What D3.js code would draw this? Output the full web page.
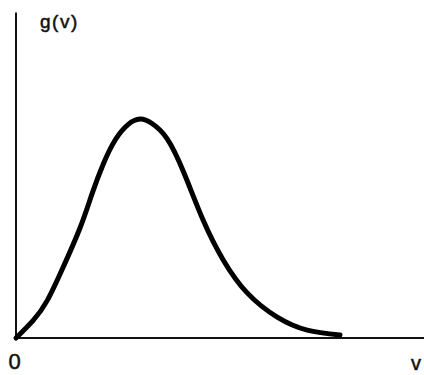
<!DOCTYPE html>
<html>
<head>
<meta charset="utf-8">
<script src="https://cdn.jsdelivr.net/npm/d3@7"></script>
<style>
  html, body { margin: 0; padding: 0; background: #fff; }
  svg { display: block; }
  text { font-family: "Liberation Sans", Arial, sans-serif; fill: #111; stroke: #111; stroke-width: 0.5px; }
</style>
</head>
<body>
<script>
// Speed distribution curve g(v): sampled speeds and their relative densities
const speeds    = [0, 0.43, 0.78, 1.15, 1.6, 1.9, 2.18, 2.48, 2.8, 3.1, 3.4, 3.78, 4.2, 4.68, 5.18, 5.78, 6.53, 7.28, 8.1];
const densities = [0, 0.08, 0.17, 0.31, 0.5, 0.655, 0.79, 0.9, 0.97, 0.995, 0.975, 0.905, 0.75, 0.535, 0.355, 0.205, 0.095, 0.036, 0.014];
const yLabel = "g(v)";
const xLabel = "v";
const originLabel = "0";

const width = 424, height = 375;
const svg = d3.select("body").append("svg")
  .attr("width", width).attr("height", height);

const x = d3.scaleLinear().domain([0, 10.2]).range([16, 424]);
const y = d3.scaleLinear().domain([0, 1]).range([338, 118]);

// axes
svg.append("line")
  .attr("x1", x(0)).attr("x2", x(0))
  .attr("y1", y(1.48)).attr("y2", y(0) + 1)
  .attr("stroke", "#111").attr("stroke-width", 2);
svg.append("line")
  .attr("x1", x(0)).attr("x2", x(10.2))
  .attr("y1", y(0)).attr("y2", y(0))
  .attr("stroke", "#111").attr("stroke-width", 2);

// curve
const pts = speeds.map((v, i) => [v, densities[i]]);
const line = d3.line()
  .x(d => x(d[0])).y(d => y(d[1]))
  .curve(d3.curveNatural);
svg.append("path")
  .datum(pts)
  .attr("d", line)
  .attr("fill", "none")
  .attr("stroke", "#000")
  .attr("stroke-width", 5)
  .attr("stroke-linecap", "round");

// labels
svg.append("text").attr("x", 40).attr("y", 28)
  .attr("font-size", 19).attr("letter-spacing", 1.5).text(yLabel);
svg.append("text").attr("x", 14.5).attr("y", 369)
  .attr("text-anchor", "middle").attr("font-size", 22).text(originLabel);
svg.append("text").attr("x", 416).attr("y", 370)
  .attr("text-anchor", "middle").attr("font-size", 20).text(xLabel);
</script>
</body>
</html>
